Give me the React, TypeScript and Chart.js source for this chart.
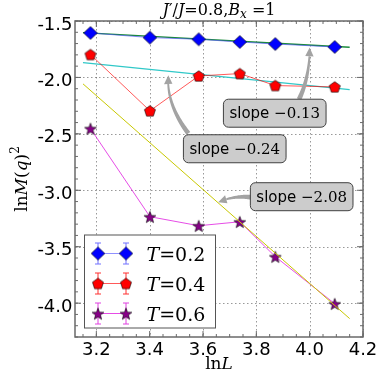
import React, { useEffect, useRef } from 'react';
import { Chart, registerables } from 'chart.js';
Chart.register(...registerables);

// ---- data ----
const lnL = [3.178, 3.401, 3.584, 3.738, 3.871, 4.094];
const lnM2_T02 = [-1.606, -1.647, -1.662, -1.686, -1.704, -1.73];
const lnM2_T04 = [-1.797, -2.296, -1.987, -1.966, -2.072, -2.084];
const lnM2_T06 = [-2.453, -3.234, -3.314, -3.279, -3.588, -4.005];

const fitX = [3.15, 4.15];
const fit013 = [-1.603, -1.733];
const fit024 = [-1.868, -2.108];
const fit208 = [-2.057, -4.137];

const legendValues = ['0.2', '0.4', '0.6'];
const slopeLabels = ['\u22120.13', '\u22120.24', '\u22122.08'];
const boxX = [3.869, 3.719, 3.97];
const boxY = [-2.317, -2.632, -3.057];
const arrowStartX = [3.96, 3.545, 3.78];
const arrowStartY = [-2.194, -2.496, -3.062];
const arrowCtrlX = [4.0, 3.462, 3.717];
const arrowCtrlY = [-2.0, -2.238, -3.044];
const arrowTipX = [4.0, 3.47, 3.657];
const arrowTipY = [-1.735, -1.981, -3.106];

const xTicks = [3.2, 3.4, 3.6, 3.8, 4.0, 4.2];
const xTickLabels = ['3.2', '3.4', '3.6', '3.8', '4.0', '4.2'];
const yTicks = [-1.5, -2.0, -2.5, -3.0, -3.5, -4.0];
const yTickLabels = ['-1.5', '-2.0', '-2.5', '-3.0', '-3.5', '-4.0'];

const SANS = '"DejaVu Sans"';
const SERIF = '"DejaVu Serif"';

type Part = { t: string; f: string; dy?: number };

function drawRich(ctx: CanvasRenderingContext2D, parts: Part[], x: number, y: number, align: 'left' | 'center') {
  let w = 0;
  for (const p of parts) {
    ctx.font = p.f;
    w += ctx.measureText(p.t).width;
  }
  let cx = align === 'center' ? x - w / 2 : x;
  ctx.textAlign = 'left';
  ctx.textBaseline = 'alphabetic';
  for (const p of parts) {
    ctx.font = p.f;
    ctx.fillText(p.t, cx, y + (p.dy || 0));
    cx += ctx.measureText(p.t).width;
  }
  return w;
}

function makeMarker(kind: string): HTMLCanvasElement {
  const c = document.createElement('canvas');
  c.width = 16;
  c.height = 16;
  const g = c.getContext('2d')!;
  const cx = 8, cy = 8;
  g.beginPath();
  if (kind === 'diamond') {
    g.moveTo(cx, cy - 6.5);
    g.lineTo(cx + 6.8, cy);
    g.lineTo(cx, cy + 6.5);
    g.lineTo(cx - 6.8, cy);
    g.fillStyle = '#0000ff';
  } else if (kind === 'pentagon') {
    for (let k = 0; k < 5; k++) {
      const a = -Math.PI / 2 + (k * 2 * Math.PI) / 5;
      const px = cx + 5.8 * Math.cos(a), py = cy + 0.5 + 5.8 * Math.sin(a);
      if (k === 0) g.moveTo(px, py); else g.lineTo(px, py);
    }
    g.fillStyle = '#ff0000';
  } else {
    for (let k = 0; k < 10; k++) {
      const a = -Math.PI / 2 + (k * Math.PI) / 5;
      const r = k % 2 === 0 ? 6.2 : 2.6;
      const px = cx + r * Math.cos(a), py = cy + 0.8 + r * Math.sin(a);
      if (k === 0) g.moveTo(px, py); else g.lineTo(px, py);
    }
    g.fillStyle = '#880088';
  }
  g.closePath();
  g.fill();
  g.lineWidth = 0.6;
  g.strokeStyle = '#000';
  g.stroke();
  return c;
}

function fancyArrow(ctx: CanvasRenderingContext2D, p0: number[], c: number[], p2: number[], color: string) {
  const N = 40;
  const pts: number[][] = [];
  for (let i = 0; i <= N; i++) {
    const t = i / N;
    const a = (1 - t) * (1 - t), b = 2 * (1 - t) * t, d = t * t;
    pts.push([a * p0[0] + b * c[0] + d * p2[0], a * p0[1] + b * c[1] + d * p2[1]]);
  }
  const s: number[] = [0];
  for (let i = 1; i <= N; i++) s.push(s[i - 1] + Math.hypot(pts[i][0] - pts[i - 1][0], pts[i][1] - pts[i - 1][1]));
  const L = s[N];
  const headLen = 8, headW = 4.2, w0 = 2.4, w1 = 0.9;
  const bodyEnd = L - headLen;
  const left: number[][] = [], right: number[][] = [];
  let lastP = pts[0], lastN = [0, 0];
  for (let i = 0; i <= N; i++) {
    if (s[i] > bodyEnd) break;
    const i0 = Math.max(0, i - 1), i1 = Math.min(N, i + 1);
    let tx = pts[i1][0] - pts[i0][0], ty = pts[i1][1] - pts[i0][1];
    const tl = Math.hypot(tx, ty) || 1;
    tx /= tl; ty /= tl;
    const nx = -ty, ny = tx;
    const w = w0 + (w1 - w0) * (s[i] / bodyEnd);
    left.push([pts[i][0] + nx * w, pts[i][1] + ny * w]);
    right.push([pts[i][0] - nx * w, pts[i][1] - ny * w]);
    lastP = pts[i];
    lastN = [nx, ny];
  }
  ctx.save();
  ctx.fillStyle = color;
  ctx.beginPath();
  left.forEach((p, i) => (i === 0 ? ctx.moveTo(p[0], p[1]) : ctx.lineTo(p[0], p[1])));
  for (let i = right.length - 1; i >= 0; i--) ctx.lineTo(right[i][0], right[i][1]);
  ctx.closePath();
  ctx.fill();
  ctx.beginPath();
  ctx.moveTo(lastP[0] + lastN[0] * headW, lastP[1] + lastN[1] * headW);
  ctx.lineTo(p2[0], p2[1]);
  ctx.lineTo(lastP[0] - lastN[0] * headW, lastP[1] - lastN[1] * headW);
  ctx.closePath();
  ctx.fill();
  ctx.restore();
}

export default function App() {
  const ref = useRef<HTMLCanvasElement>(null);

  useEffect(() => {
    const canvas = ref.current!;
    const diamond = makeMarker('diamond');
    const pentagon = makeMarker('pentagon');
    const star = makeMarker('star');

    const lineCols = ['rgba(70,70,255,0.6)', 'rgba(255,0,0,0.65)', 'rgba(220,0,220,0.7)'];
    const errCols = ['#7070ff', '#ff3030', '#e040e0'];
    const markers = [diamond, pentagon, star];

    const decor = {
      id: 'decor',
      beforeDatasetsDraw(chart: any) {
        const ctx: CanvasRenderingContext2D = chart.ctx;
        const ca = chart.chartArea;
        const xs = chart.scales.x, ys = chart.scales.y;
        ctx.save();
        ctx.strokeStyle = 'rgba(0,0,0,0.5)';
        ctx.lineWidth = 0.8;
        ctx.setLineDash([1.5, 2.5]);
        for (const v of xTicks) {
          const px = Math.round(xs.getPixelForValue(v)) + 0.5;
          ctx.beginPath();
          ctx.moveTo(px, ca.top);
          ctx.lineTo(px, ca.bottom);
          ctx.stroke();
        }
        for (const v of yTicks) {
          const py = Math.round(ys.getPixelForValue(v)) + 0.5;
          ctx.beginPath();
          ctx.moveTo(ca.left, py);
          ctx.lineTo(ca.right, py);
          ctx.stroke();
        }
        ctx.restore();
      },
      afterDatasetsDraw(chart: any) {
        const ctx: CanvasRenderingContext2D = chart.ctx;
        const ca = chart.chartArea;
        const xs = chart.scales.x, ys = chart.scales.y;
        ctx.save();

        // frame and ticks
        const frameCol = '#6a6a6a';
        ctx.strokeStyle = frameCol;
        ctx.lineWidth = 1.5;
        ctx.strokeRect(ca.left, ca.top, ca.right - ca.left, ca.bottom - ca.top);
        ctx.lineWidth = 1;
        const tickX = (v: number, len: number) => {
          const px = xs.getPixelForValue(v);
          ctx.beginPath();
          ctx.moveTo(px, ca.bottom);
          ctx.lineTo(px, ca.bottom - len);
          ctx.moveTo(px, ca.top);
          ctx.lineTo(px, ca.top + len);
          ctx.stroke();
        };
        const tickY = (v: number, len: number) => {
          const py = ys.getPixelForValue(v);
          ctx.beginPath();
          ctx.moveTo(ca.left, py);
          ctx.lineTo(ca.left + len, py);
          ctx.moveTo(ca.right, py);
          ctx.lineTo(ca.right - len, py);
          ctx.stroke();
        };
        for (let k = 0; k <= 21; k++) {
          const v = 3.15 + k * 0.05;
          if (v >= xs.min - 1e-9 && v <= xs.max + 1e-9) tickX(v, 3);
        }
        for (let k = 0; k <= 28; k++) {
          const v = -4.3 + k * 0.1;
          if (v >= ys.min - 1e-9 && v <= ys.max + 1e-9) tickY(v, 3);
        }
        xTicks.forEach((v) => tickX(v, 6));
        yTicks.forEach((v) => tickY(v, 6));

        // tick labels
        ctx.fillStyle = '#000';
        ctx.font = `18px ${SANS}`;
        ctx.textAlign = 'center';
        ctx.textBaseline = 'alphabetic';
        xTicks.forEach((v, i) => ctx.fillText(xTickLabels[i], xs.getPixelForValue(v), ca.bottom + 17.5));
        ctx.textAlign = 'right';
        yTicks.forEach((v, i) => ctx.fillText(yTickLabels[i], ca.left - 2.5, ys.getPixelForValue(v) + 8.5));

        // axis labels
        const cx = (ca.left + ca.right) / 2;
        drawRich(ctx, [
          { t: 'ln', f: `17px ${SERIF}` },
          { t: 'L', f: `italic 17px ${SERIF}` },
        ], cx, 369, 'center');
        ctx.save();
        ctx.translate(27, (ca.top + ca.bottom) / 2);
        ctx.rotate(-Math.PI / 2);
        drawRich(ctx, [
          { t: 'ln', f: `17px ${SERIF}` },
          { t: 'M', f: `italic 17px ${SERIF}` },
          { t: '(', f: `17px ${SERIF}` },
          { t: 'q', f: `italic 17px ${SERIF}` },
          { t: ')', f: `17px ${SERIF}` },
          { t: '2', f: `12px ${SERIF}`, dy: -8 },
        ], 0, 0, 'center');
        ctx.restore();

        // title
        drawRich(ctx, [
          { t: 'J', f: `italic 16px ${SERIF}` },
          { t: '\u2032', f: `16px ${SERIF}` },
          { t: '/', f: `16px ${SERIF}` },
          { t: 'J', f: `italic 16px ${SERIF}` },
          { t: '=0.8,', f: `16px ${SERIF}` },
          { t: 'B', f: `italic 16px ${SERIF}` },
          { t: 'x', f: `italic 12px ${SERIF}`, dy: 3 },
          { t: ' =1', f: `16px ${SERIF}` },
        ], cx, 15, 'center');

        // annotations
        for (let i = 0; i < slopeLabels.length; i++) {
          const p0 = [xs.getPixelForValue(arrowStartX[i]), ys.getPixelForValue(arrowStartY[i])];
          const pc = [xs.getPixelForValue(arrowCtrlX[i]), ys.getPixelForValue(arrowCtrlY[i])];
          const p2 = [xs.getPixelForValue(arrowTipX[i]), ys.getPixelForValue(arrowTipY[i])];
          fancyArrow(ctx, p0, pc, p2, '#a3a3a3');
        }
        for (let i = 0; i < slopeLabels.length; i++) {
          const bx = xs.getPixelForValue(boxX[i]);
          const by = ys.getPixelForValue(boxY[i]);
          const parts: Part[] = [
            { t: 'slope ', f: `15px ${SANS}` },
            { t: slopeLabels[i], f: `15px ${SERIF}` },
          ];
          let tw = 0;
          for (const p of parts) { ctx.font = p.f; tw += ctx.measureText(p.t).width; }
          const w = tw + 12, h = 28;
          ctx.beginPath();
          ctx.roundRect(bx - w / 2, by - h / 2, w, h, 5);
          ctx.fillStyle = '#cccccc';
          ctx.fill();
          ctx.strokeStyle = '#404040';
          ctx.lineWidth = 1;
          ctx.stroke();
          ctx.fillStyle = '#000';
          drawRich(ctx, parts, bx, by + 5, 'center');
        }

        // legend
        const lx = ca.left + 9.5, ly = ca.bottom - 102, lw = 131, lh = 93;
        ctx.fillStyle = '#fff';
        ctx.fillRect(lx, ly, lw, lh);
        ctx.strokeStyle = '#555';
        ctx.lineWidth = 1;
        ctx.strokeRect(lx, ly, lw, lh);
        for (let i = 0; i < 3; i++) {
          const ry = ly + 18.5 + i * 30;
          const m1 = lx + 13.5, m2 = lx + 41.5;
          ctx.strokeStyle = lineCols[i];
          ctx.lineWidth = 1;
          ctx.beginPath();
          ctx.moveTo(m1, ry);
          ctx.lineTo(m2, ry);
          ctx.stroke();
          ctx.strokeStyle = errCols[i];
          for (const mx of [m1, m2]) {
            ctx.beginPath();
            ctx.moveTo(mx, ry - 10.5);
            ctx.lineTo(mx, ry + 10.5);
            ctx.moveTo(mx - 3, ry - 10.5);
            ctx.lineTo(mx + 3, ry - 10.5);
            ctx.moveTo(mx - 3, ry + 10.5);
            ctx.lineTo(mx + 3, ry + 10.5);
            ctx.stroke();
            ctx.drawImage(markers[i], mx - 8, ry - 8);
          }
          ctx.fillStyle = '#000';
          drawRich(ctx, [
            { t: 'T', f: `italic 19px ${SERIF}` },
            { t: '=' + legendValues[i], f: `19px ${SERIF}` },
          ], lx + 62, ry + 7, 'left');
        }
        ctx.restore();
      },
    };

    const pts = (ys: number[], xs: number[]) => xs.map((x, i) => ({ x, y: ys[i] }));

    const chart = new Chart(canvas, {
      type: 'line',
      data: {
        datasets: [
          { label: 'fit -2.08', data: pts(fit208, fitX), borderColor: '#c8c800', borderWidth: 1, pointRadius: 0, order: 0 } as any,
          { label: 'T=0.6', data: pts(lnM2_T06, lnL), borderColor: lineCols[2], borderWidth: 1, pointStyle: star, pointRadius: 5, order: 1 },
          { label: 'T=0.4', data: pts(lnM2_T04, lnL), borderColor: lineCols[1], borderWidth: 1, pointStyle: pentagon, pointRadius: 5, order: 2 },
          { label: 'T=0.2', data: pts(lnM2_T02, lnL), borderColor: lineCols[0], borderWidth: 1, pointStyle: diamond, pointRadius: 5, order: 3 },
          { label: 'fit -0.13', data: pts(fit013, fitX), borderColor: '#1a8a3a', borderWidth: 1.5, pointRadius: 0, order: 4 },
          { label: 'fit -0.24', data: pts(fit024, fitX), borderColor: '#30c8c8', borderWidth: 1.2, pointRadius: 0, order: 5 },
        ],
      },
      options: {
        responsive: false,
        animation: false,
        devicePixelRatio: 1,
        layout: { padding: { left: 75, right: 19, top: 21, bottom: 45 } },
        plugins: { legend: { display: false }, tooltip: { enabled: false }, title: { display: false } },
        elements: { line: { tension: 0 } },
        scales: {
          x: { type: 'linear', min: 3.12, max: 4.2, display: false },
          y: { type: 'linear', min: -4.3, max: -1.5, display: false },
        },
      },
      plugins: [decor],
    } as any);
    return () => chart.destroy();
  }, []);

  return (
    <canvas
      ref={ref}
      width={382}
      height={382}
      style={{ position: 'fixed', left: 0, top: 0, width: 382, height: 382 }}
    />
  );
}
